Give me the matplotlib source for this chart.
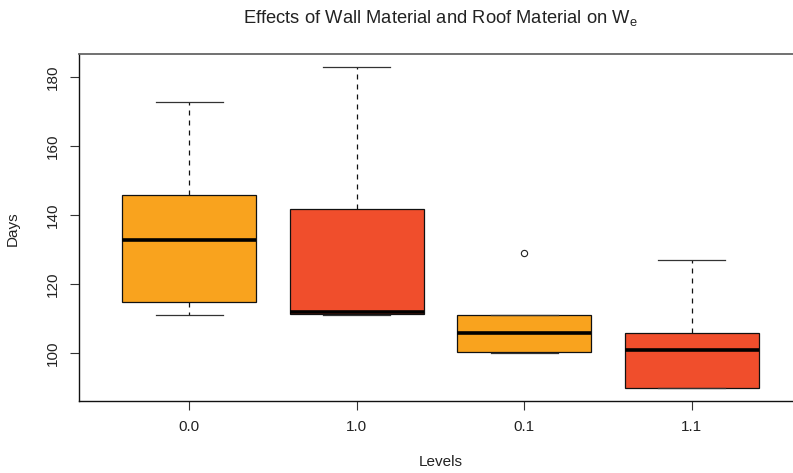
import matplotlib
matplotlib.use("Agg")
import matplotlib.pyplot as plt

# ---- data ----
levels = ["0.0", "1.0", "0.1", "1.1"]
whislo = [111, 111, 100, 90]
q1 = [115, 111.5, 100.5, 90]
med = [133, 112, 106, 101]
q3 = [146, 142, 111, 106]
whishi = [173, 183, 111, 127]
fliers = [[], [], [129], []]
colors = ["#F9A31E", "#F04E2C", "#F9A31E", "#F04E2C"]
yticks = [100, 120, 140, 160, 180]

plt.rcParams["font.family"] = ["Liberation Sans", "DejaVu Sans"]
W, H, DPI = 793, 473, 100
fig = plt.figure(figsize=(W / DPI, H / DPI), dpi=DPI)
left_px, right_px, top_px, bottom_px = 78.5, 802.5, 54, 401
ax = fig.add_axes([left_px / W, 1 - bottom_px / H,
                   (right_px - left_px) / W, (bottom_px - top_px) / H])

stats = []
for i, lab in enumerate(levels):
    stats.append(dict(label=lab, whislo=whislo[i], q1=q1[i], med=med[i],
                      q3=q3[i], whishi=whishi[i], fliers=fliers[i]))

positions = list(range(1, len(levels) + 1))
bp = ax.bxp(stats, positions=positions, widths=0.8, patch_artist=True,
            showfliers=True, capwidths=0.4,
            boxprops=dict(edgecolor="#111111", linewidth=0.9),
            medianprops=dict(color="black", linewidth=2.6, solid_capstyle="butt"),
            whiskerprops=dict(color="#111111", linewidth=0.9, linestyle=(0, (4, 4))),
            capprops=dict(color="#333333", linewidth=0.9),
            flierprops=dict(marker="o", markersize=4.5, markerfacecolor="none",
                            markeredgecolor="#222222", markeredgewidth=0.8))
for patch, c in zip(bp["boxes"], colors):
    patch.set_facecolor(c)

ax.set_xlim(0.34, 4.66)
ax.set_ylim(86.2, 186.8)
ax.set_yticks(yticks)
ax.set_xticks(positions)
ax.set_xticklabels(levels)
for lab in ax.get_yticklabels():
    lab.set_rotation(90)
    lab.set_va("center")
ax.tick_params(axis="both", length=6.5, width=0.8, color="#333333",
               labelsize=11, labelcolor="#222222", pad=7)
for s in ax.spines.values():
    s.set_linewidth(1.0)
    s.set_color("#111111")
ax.spines["top"].set_color("#666666")
ax.spines["top"].set_linewidth(1.3)

fig.text((left_px + right_px) / 2 / W, 1 - 18 / H,
         r"Effects of Wall Material and Roof Material on $\mathregular{W_e}$",
         ha="center", va="center", fontsize=13.2, color="#222222")
fig.text((left_px + right_px) / 2 / W, 1 - 462 / H, "Levels",
         ha="center", va="center", fontsize=11, color="#222222")
fig.text(13 / W, 1 - 229 / H, "Days", ha="center", va="center",
         rotation=90, fontsize=11, color="#222222")

fig.savefig("out.png", dpi=DPI)
